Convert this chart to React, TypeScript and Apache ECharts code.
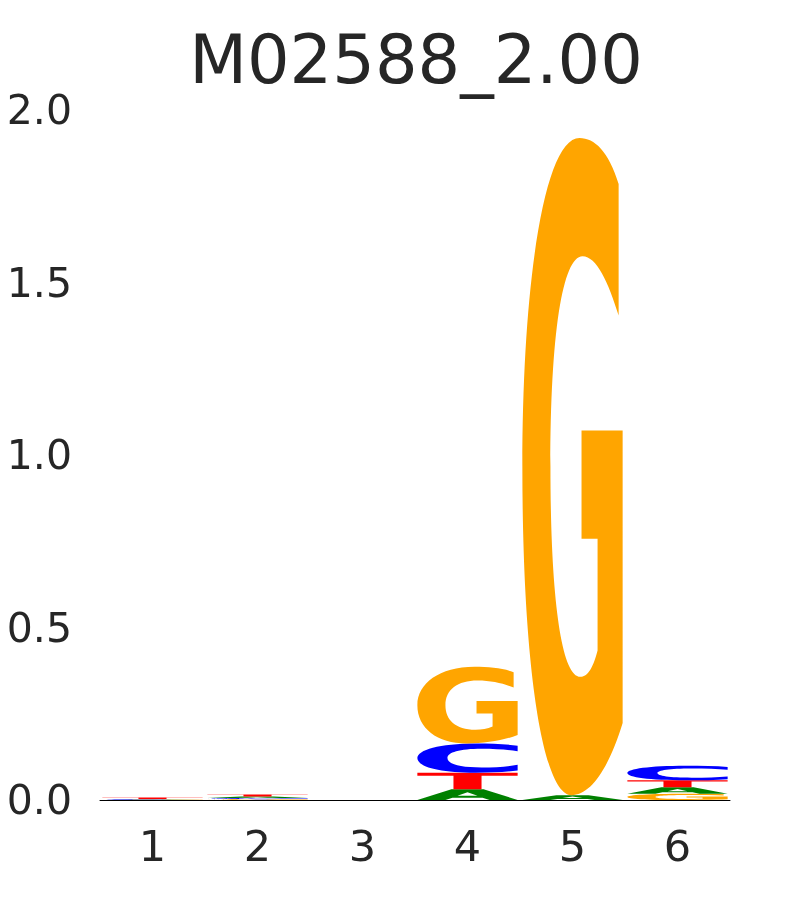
import React, { useEffect, useRef } from "react";
import * as echarts from "echarts";

const positions = ["1", "2", "3", "4", "5", "6"];
const letters = ["A", "C", "G", "T"];
const letterColors = ["#008000", "#0000FF", "#FFA500", "#FF0000"];
// information content (bits) per letter at each position
const heightA = [0.001, 0.004, 0.0, 0.031, 0.014, 0.019];
const heightC = [0.0012, 0.0035, 0.0, 0.085, 0.0, 0.042];
const heightG = [0.0008, 0.0025, 0.0, 0.222, 1.905, 0.018];
const heightT = [0.004, 0.006, 0.0, 0.048, 0.0, 0.02];
const yTicks = [0, 0.5, 1.0, 1.5, 2.0];
const titleText = "M02588_2.00";

const glyphPaths: Record<string, string> = {
  A: "M 0 100 L 34 0 L 66 0 L 100 100 L 72 100 L 65 78 L 35 78 L 28 100 Z M 40 60 L 60 60 L 50 28 Z",
  C: "M 100 8 C 88 2 74 0 58 0 C 22 0 0 22 0 50 C 0 80 22 100 58 100 C 74 100 88 98 100 92 L 100 73 C 90 79 78 82 64 82 C 42 82 30 70 30 50 C 30 30 42 18 64 18 C 78 18 90 21 100 27 Z",
  G: "M 96 7 C 86 2 72 0 57 0 C 22 0 0 22 0 50 C 0 80 20 100 49 100 C 68 100 86 96 100 89 L 100 44.5 L 59 44.5 L 59 61 L 75 61 L 75 78 C 70 81 64 82 58 82 C 38 82 28 69 28 50 C 28 30 40 18 60 18 C 74 18 86 22 96 27 Z",
  T: "M 0 0 L 100 0 L 100 18 L 64 18 L 64 100 L 36 100 L 36 18 L 0 18 Z",
};

export default function App() {
  const ref = useRef<HTMLDivElement>(null);
  useEffect(() => {
    if (!ref.current) return;
    const chart = echarts.init(ref.current, undefined, { renderer: "svg" });
    const all = [heightA, heightC, heightG, heightT];
    const data: number[][] = [];
    positions.forEach((_, i) => {
      const items = letters.map((_, li) => ({ li, h: all[li][i] })).filter((d) => d.h > 0);
      items.sort((a, b) => a.h - b.h);
      let base = 0;
      items.forEach((d) => {
        data.push([i, base, base + d.h, d.li]);
        base += d.h;
      });
    });
    chart.setOption({
      animation: false,
      title: {
        text: titleText,
        left: 411,
        top: 21,
        textAlign: "center",
        textStyle: { fontFamily: "DejaVu Sans", fontSize: 67, fontWeight: "normal", color: "#262626" },
      },
      grid: { left: 100, right: 80, top: 110, bottom: 100 },
      xAxis: {
        type: "category",
        data: positions,
        boundaryGap: true,
        axisLine: { show: true, lineStyle: { color: "#000", width: 1 } },
        axisTick: { show: false },
        splitLine: { show: false },
        axisLabel: { fontFamily: "DejaVu Sans", fontSize: 43, color: "#262626", margin: 24 },
        z: 10,
      },
      yAxis: {
        type: "value",
        min: yTicks[0],
        max: yTicks[yTicks.length - 1],
        interval: 0.5,
        axisLine: { show: false },
        axisTick: { show: false },
        splitLine: { show: false },
        axisLabel: {
          fontFamily: "DejaVu Sans",
          fontSize: 41,
          color: "#262626",
          margin: 28,
          formatter: (v: number) => v.toFixed(1),
        },
      },
      series: [
        {
          type: "custom",
          encode: { x: 0, y: [1, 2] },
          data,
          renderItem: (params: any, api: any) => {
            const x = api.value(0);
            const y0 = api.value(1);
            const y1 = api.value(2);
            const li = api.value(3);
            const pTop = api.coord([x, y1]);
            const pBot = api.coord([x, y0]);
            const bw = api.size([1, 0])[0] * 0.955;
            return {
              type: "path",
              shape: {
                pathData: glyphPaths[letters[li]],
                x: pTop[0] - bw / 2,
                y: pTop[1],
                width: bw,
                height: Math.max(pBot[1] - pTop[1], 0.01),
                layout: "cover",
              },
              style: { fill: letterColors[li] },
            };
          },
        },
      ],
    });
    return () => chart.dispose();
  }, []);
  return <div ref={ref} style={{ position: "fixed", left: 0, top: 0, width: 810, height: 900 }} />;
}
